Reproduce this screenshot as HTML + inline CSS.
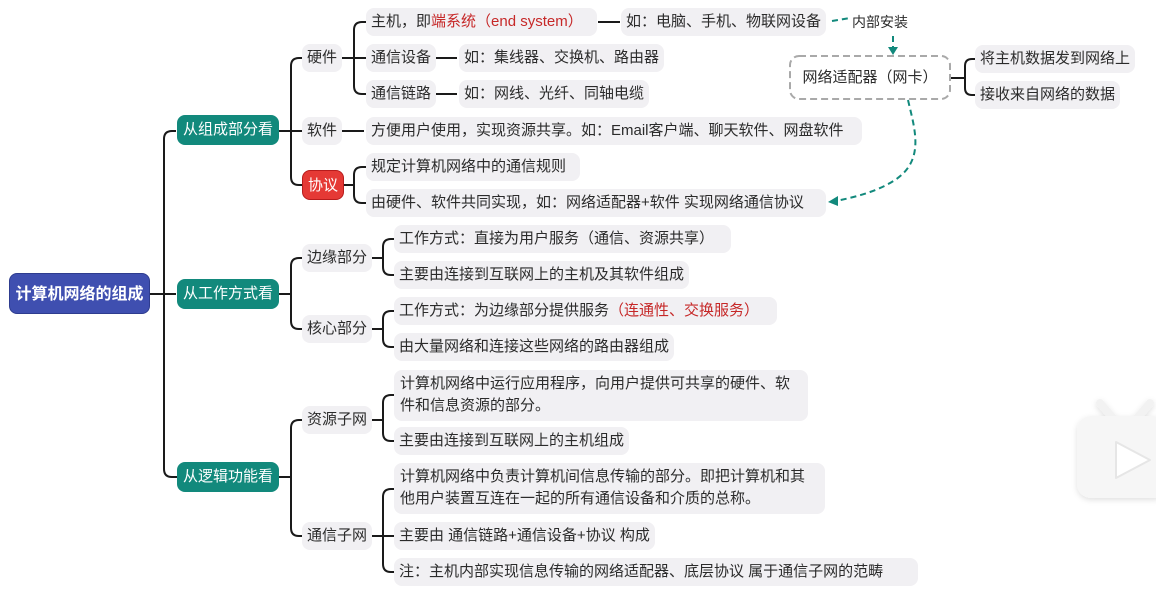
<!DOCTYPE html>
<html><head><meta charset="utf-8">
<style>
html,body{margin:0;padding:0;background:#fff;}
body{width:1156px;height:596px;position:relative;overflow:hidden;font-family:"Liberation Sans","Noto Sans CJK SC",sans-serif;color:#2b2b2b;}
.n{position:absolute;background:#f1f0f3;border-radius:8px;height:28px;line-height:28px;font-size:15px;white-space:nowrap;box-sizing:border-box;padding:0 5px;}
.m{height:51px;line-height:22px;padding:3px 6px;white-space:normal;}
.l1{position:absolute;background:#12897c;color:#fff;border-radius:8px;height:30px;line-height:30px;font-size:15px;text-align:center;width:102px;left:177px;}
.red{color:#c62828;}
svg{position:absolute;left:0;top:0;}
</style></head><body>
<svg width="1156" height="596" fill="none">
<defs><filter id="sh" x="-20%" y="-20%" width="140%" height="140%"><feDropShadow dx="0" dy="2" stdDeviation="3" flood-color="#000" flood-opacity="0.12"/></filter></defs>
<g stroke="#1a1a1a" stroke-width="2">
<path d="M150 294 H176"/>
<path d="M176 131 H172 Q164 131 164 139 V469 Q164 477 172 477 H177"/>
<path d="M278 131 H302"/>
<path d="M302 58 H299 Q291 58 291 66 V177 Q291 185 299 185 H302"/>
<path d="M341 58 H366"/>
<path d="M366 22 H362 Q354 22 354 30 V86 Q354 94 362 94 H366"/>
<path d="M598 22 H620"/>
<path d="M436 58 H457"/>
<path d="M436 94 H457"/>
<path d="M342 131 H364"/>
<path d="M342 185 H354"/>
<path d="M366 167 H362 Q354 167 354 175 V195 Q354 203 362 203 H366"/>
<path d="M278 294 H291"/>
<path d="M302 258 H299 Q291 258 291 266 V321 Q291 329 299 329 H302"/>
<path d="M371 258 H383"/>
<path d="M394 239 H391 Q383 239 383 247 V267 Q383 275 391 275 H394"/>
<path d="M371 329 H383"/>
<path d="M394 311 H391 Q383 311 383 319 V339 Q383 347 391 347 H394"/>
<path d="M278 477 H291"/>
<path d="M302 420 H299 Q291 420 291 428 V528 Q291 536 299 536 H302"/>
<path d="M371 420 H383"/>
<path d="M394 395 H391 Q383 395 383 403 V433 Q383 441 391 441 H394"/>
<path d="M371 536 H394"/>
<path d="M394 489 H391 Q383 489 383 497 V564 Q383 572 391 572 H394"/>
<path d="M950 78 H965"/>
<path d="M975 59 H972 Q965 59 965 66 V88 Q965 95 972 95 H975"/>
</g>
<g stroke="#12897c" stroke-width="2" stroke-dasharray="6 4">
<path d="M832 21 L850 18"/>
<path d="M893 36 V48"/>
<path d="M908 100 C915 130 925 160 895 180 C875 193 850 198 836 201"/>
</g>
<g fill="#12897c">
<path d="M888 47 L898 47 L893 55 Z"/>
<path d="M828 202 L838 196 L838 206 Z"/>
</g>
<rect x="790" y="56" width="160" height="43" rx="9" stroke="#a9a9a9" stroke-width="2" stroke-dasharray="7 4" fill="#fff"/>
<g filter="url(#sh)">
<path d="M1100 403 L1113 418 M1150 403 L1137 418" stroke="#f2f2f2" stroke-width="8" stroke-linecap="round"/>
<rect x="1077" y="416" width="90" height="82" rx="14" fill="#f6f6f6"/>
<path d="M1116 442 L1150 460 L1116 478 Z" fill="#fff" stroke="#e6e6e6" stroke-width="2" stroke-linejoin="round"/>
</g>
</svg>

<div style="position:absolute;left:9px;top:273px;width:141px;height:41px;line-height:41px;background:#3f4fb0;color:#fff;border-radius:8px;text-align:center;font-size:16px;font-weight:bold;border:1px solid #2e3c8f;box-sizing:border-box;">计算机网络的组成</div>

<div class="l1" style="top:115px;">从组成部分看</div>
<div class="l1" style="top:279px;">从工作方式看</div>
<div class="l1" style="top:462px;">从逻辑功能看</div>

<div class="n" style="left:302px;top:44px;">硬件</div>
<div class="n" style="left:302px;top:117px;">软件</div>
<div class="n" style="left:302px;top:170px;height:30px;line-height:30px;background:#e53935;color:#fff;border:1px solid #b71c1c;">协议</div>

<div class="n" style="left:366px;top:8px;width:231px;">主机，即<span class="red">端系统（end system）</span></div>
<div class="n" style="left:366px;top:44px;">通信设备</div>
<div class="n" style="left:366px;top:80px;">通信链路</div>
<div class="n" style="left:459px;top:44px;">如：集线器、交换机、路由器</div>
<div class="n" style="left:459px;top:80px;">如：网线、光纤、同轴电缆</div>
<div class="n" style="left:621px;top:8px;">如：电脑、手机、物联网设备</div>
<div style="position:absolute;left:852px;top:12px;font-size:14px;">内部安装</div>
<div class="n" style="left:366px;top:117px;width:496px;">方便用户使用，实现资源共享。如：Email客户端、聊天软件、网盘软件</div>
<div class="n" style="left:366px;top:153px;width:214px;">规定计算机网络中的通信规则</div>
<div class="n" style="left:366px;top:189px;width:460px;">由硬件、软件共同实现，如：网络适配器+软件 实现网络通信协议</div>

<div style="position:absolute;left:790px;top:56px;width:160px;height:43px;line-height:43px;text-align:center;font-size:15px;">网络适配器（网卡）</div>
<div class="n" style="left:975px;top:45px;">将主机数据发到网络上</div>
<div class="n" style="left:975px;top:81px;">接收来自网络的数据</div>

<div class="n" style="left:302px;top:244px;">边缘部分</div>
<div class="n" style="left:302px;top:315px;">核心部分</div>
<div class="n" style="left:394px;top:225px;width:337px;">工作方式：直接为用户服务（通信、资源共享）</div>
<div class="n" style="left:394px;top:261px;">主要由连接到互联网上的主机及其软件组成</div>
<div class="n" style="left:394px;top:297px;width:383px;">工作方式：为边缘部分提供服务<span class="red">（连通性、交换服务）</span></div>
<div class="n" style="left:394px;top:333px;">由大量网络和连接这些网络的路由器组成</div>

<div class="n" style="left:302px;top:406px;">资源子网</div>
<div class="n" style="left:302px;top:522px;">通信子网</div>
<div class="n m" style="left:394px;top:370px;width:414px;">计算机网络中运行应用程序，向用户提供可共享的硬件、软件和信息资源的部分。</div>
<div class="n" style="left:394px;top:427px;">主要由连接到互联网上的主机组成</div>
<div class="n m" style="left:394px;top:463px;width:431px;">计算机网络中负责计算机间信息传输的部分。即把计算机和其他用户装置互连在一起的所有通信设备和介质的总称。</div>
<div class="n" style="left:394px;top:522px;">主要由 通信链路+通信设备+协议 构成</div>
<div class="n" style="left:394px;top:558px;width:524px;">注：主机内部实现信息传输的网络适配器、底层协议 属于通信子网的范畴</div>
</body></html>
